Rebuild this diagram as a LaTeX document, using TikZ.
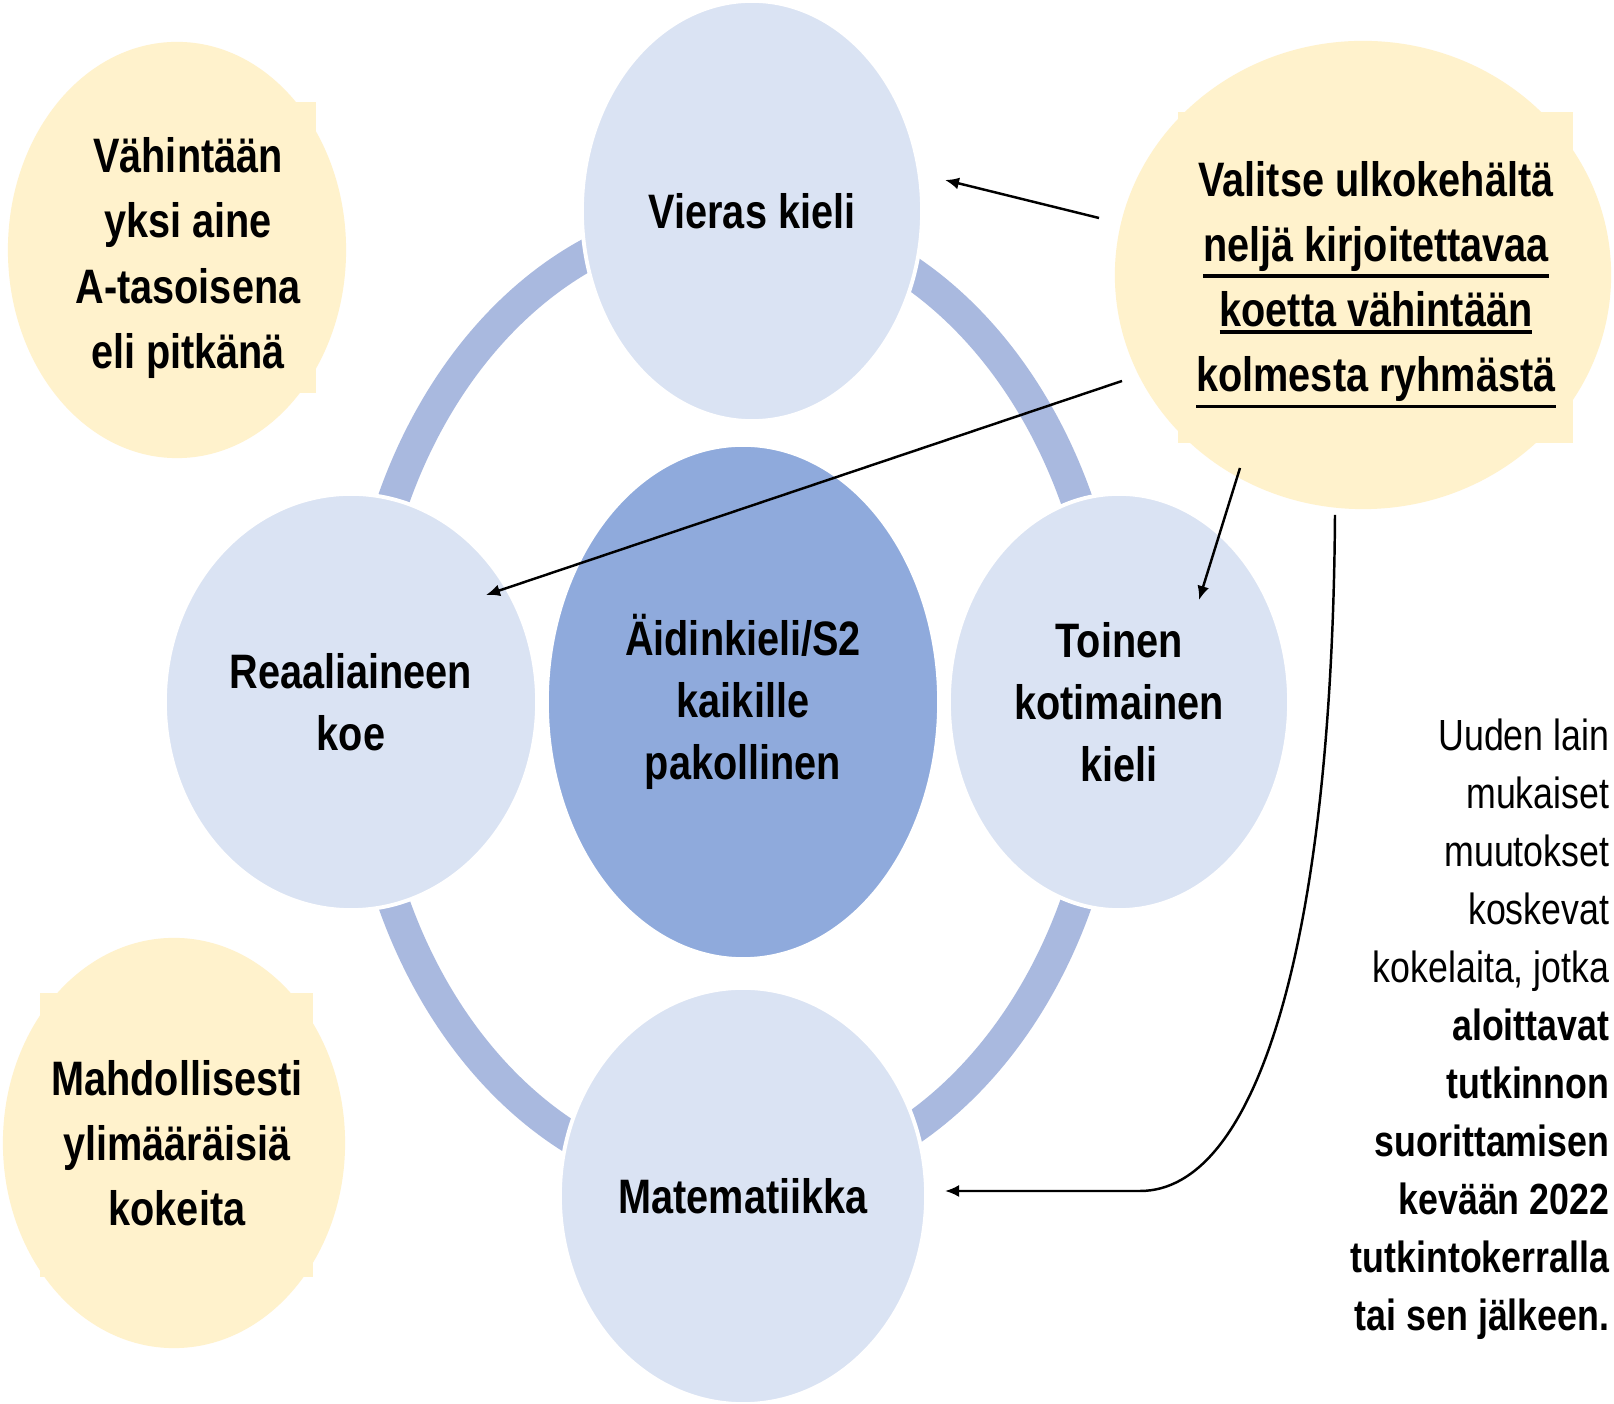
\documentclass[tikz,border=0pt]{standalone}
\usepackage{fontspec}
\setmainfont{Liberation Sans}[FakeStretch=0.82]
\usetikzlibrary{shapes.geometric,arrows.meta}
\definecolor{lightblue}{RGB}{218,227,243}
\definecolor{midblue}{RGB}{143,170,220}
\definecolor{ringblue}{RGB}{169,185,223}
\definecolor{paleyellow}{RGB}{255,242,204}
\newcommand\myul[1]{\leavevmode\setbox0=\hbox{#1}\dimen0=\dp0\relax\advance\dimen0 by 1.9pt\relax\rlap{\rule[-\dimen0]{\wd0}{1.1pt}}\box0}
\begin{document}
\begin{tikzpicture}[x=0.01cm,y=-0.01cm,
  blob/.style={ellipse, draw=white, line width=1.1pt, inner sep=0pt, fill=lightblue,
    font=\bfseries\fontsize{13.75}{17.6}\selectfont, align=center},
  yblob/.style={ellipse, fill=paleyellow, inner sep=0pt},
  lbl/.style={font=\bfseries\fontsize{13.75}{18.5}\selectfont, align=center, inner sep=0pt},
  arr/.style={-{Latex[length=0.14cm,width=0.12cm]}, line width=0.7pt, black}
]
\useasboundingbox (0,0) rectangle (1614,1404);
\fill[white] (0,0) rectangle (1614,1404);

% ring
\draw[ringblue, line width=0.32cm] (735,701) ellipse [x radius=3.75cm, y radius=4.85cm];

% blue circles
\node[blob, minimum width=3.40cm, minimum height=4.20cm] (vieras) at (752,211) {Vieras kieli};
\node[blob, minimum width=3.72cm, minimum height=4.16cm] (reaali) at (351,702) {Reaaliaineen\\koe};
\node[blob, fill=midblue, minimum width=3.92cm, minimum height=5.14cm] (aidinkieli) at (743,702) {Äidinkieli/S2\\kaikille\\pakollinen};
\node[blob, minimum width=3.40cm, minimum height=4.16cm] (toinen) at (1119,702) {Toinen\\kotimainen\\kieli};
\node[blob, minimum width=3.66cm, minimum height=4.16cm] (matikka) at (743,1196) {Matematiikka};

% yellow blobs
\fill[paleyellow] (70,102) rectangle (316,393);
\node[yblob, minimum width=3.38cm, minimum height=4.16cm] (vahintaan) at (177,250) {};
\node[lbl] (vahintaant) at (188,258) {Vähintään\\yksi aine\\A-tasoisena\\eli pitkänä};

\fill[paleyellow] (40,993) rectangle (313,1277);
\node[yblob, minimum width=3.42cm, minimum height=4.10cm] (mahd) at (174,1143) {};
\node[lbl] (mahdt) at (177,1143) {Mahdollisesti\\ylimääräisiä\\kokeita};

\fill[paleyellow] (1178,112) rectangle (1573,443);
\node[yblob, minimum width=4.96cm, minimum height=4.68cm] (valitse) at (1363,275) {};
\node[lbl] (valitset) at (1376,285) {Valitse ulkokehältä\\\myul{neljä kirjoitettavaa}\\\myul{koetta vähintään}\\\myul{kolmesta ryhmästä}};

% note text
\node[font=\fontsize{12.4}{16.5}\selectfont, align=right, anchor=east, inner sep=0pt] (note) at (1610,1029)
 {Uuden lain\\mukaiset\\muutokset\\koskevat\\kokelaita, jotka\\\textbf{aloittavat}\\\textbf{tutkinnon}\\\textbf{suorittamisen}\\\textbf{kevään 2022}\\\textbf{tutkintokerralla}\\\textbf{tai sen jälkeen.}};

% arrows
\coordinate (a1s) at (1099,218); \coordinate (a1e) at (945,180);
\coordinate (a2s) at (1122,381); \coordinate (a2e) at (486,595);
\coordinate (a3s) at (1240,468); \coordinate (a3e) at (1199,600);
\coordinate (a4s) at (1335,515); \coordinate (a4m) at (1140,1191); \coordinate (a4e) at (945,1191);
\draw[arr] (a1s) -- (a1e);
\draw[arr] (a2s) -- (a2e);
\draw[arr] (a3s) -- (a3e);
\draw[arr] (a4s) .. controls (1332,950) and (1255,1191) .. (a4m) -- (a4e);
\end{tikzpicture}
\end{document}
